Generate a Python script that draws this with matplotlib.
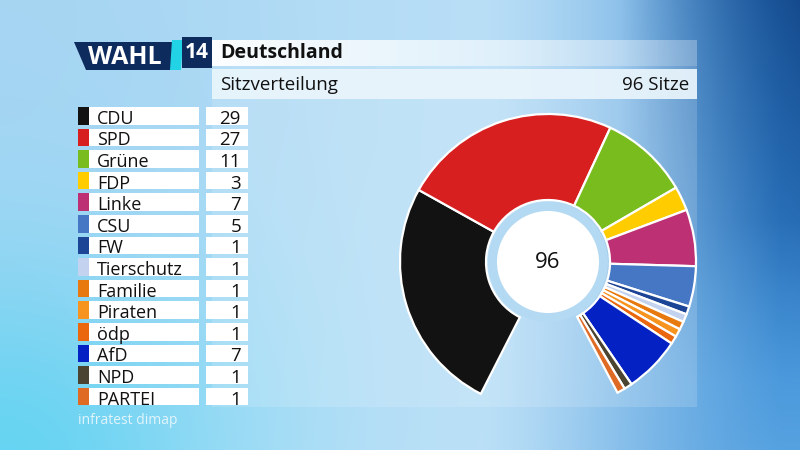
import numpy as np
import matplotlib.pyplot as plt
from matplotlib.patches import Rectangle, Polygon, Circle

# seat distribution (Europawahl 2014, Deutschland)
parties = ['CDU', 'SPD', 'Grüne', 'FDP', 'Linke', 'CSU', 'FW', 'Tierschutz',
           'Familie', 'Piraten', 'ödp', 'AfD', 'NPD', 'PARTEI']
seats = [29, 27, 11, 3, 7, 5, 1, 1, 1, 1, 1, 7, 1, 1]
colors = ['#121212', '#d71f20', '#78bc1e', '#ffcc00', '#bd3074', '#4677c4',
          '#1d4596', '#c3d3ef', '#e8790f', '#f7931f', '#ea670e', '#0421c4',
          '#4b4431', '#df6a24']
title = 'Deutschland'
subtitle = 'Sitzverteilung'
total_text = '96 Sitze'
center_text = '96'
source = 'infratest dimap'

plt.rcParams['font.family'] = ['Open Sans', 'DejaVu Sans']

fig = plt.figure(figsize=(8, 4.5), dpi=100)
ax = fig.add_axes([0, 0, 1, 1])

# background gradient
H, W = 450, 800
yy, xx = np.mgrid[0:H, 0:W].astype(float)
light = np.array([0.74, 0.88, 0.97])
blue = np.array([0.20, 0.52, 0.82])
dark = np.array([0.08, 0.29, 0.55])
cyan = np.array([0.33, 0.83, 0.95])
topleft = np.array([0.60, 0.81, 0.94])
t = (np.clip((xx - 480) / 300, 0, 1) ** 1.4)[..., None]
img = light * (1 - t) + blue * t
d = (np.clip((xx - 620) / 180, 0, 1) * np.clip(1 - yy / 380, 0, 1))[..., None]
img = img * (1 - d) + dark * d
br = (t[..., 0] * np.clip((yy - 220) / 230, 0, 1) * 0.55)[..., None]
img = img * (1 - br) + np.array([0.45, 0.73, 0.93]) * br
c = (np.exp(-(xx ** 2 + (H - yy) ** 2) / (2 * 170 ** 2)) * 0.9)[..., None]
img = img * (1 - c) + cyan * c
tl = (np.exp(-(xx ** 2 + yy ** 2) / (2 * 260 ** 2)) * 0.6)[..., None]
img = img * (1 - tl) + topleft * tl
ax.imshow(img, extent=(0, 800, 450, 0), aspect='auto', zorder=0)

# light panel
ax.add_patch(Rectangle((212, 40), 485, 367, color='white', alpha=0.15, lw=0, zorder=1))

# logo
ax.add_patch(Polygon([(74, 42), (176, 42), (176, 70), (86, 70)], closed=True,
                     color='#0e2b5e', lw=0, zorder=2))
ax.add_patch(Polygon([(172, 40), (183, 40), (181, 70), (170, 70)], closed=True,
                     color='#22d3e6', lw=0, zorder=2))
ax.add_patch(Rectangle((182, 37), 30, 31, color='#0e2b5e', lw=0, zorder=3))
ax.text(125, 57, 'WAHL', color='white', fontsize=18, fontweight='bold',
        ha='center', va='center', zorder=4)
ax.text(197, 52, '14', color='white', fontsize=15, fontweight='bold',
        ha='center', va='center', zorder=4)

# header bars
grad = np.ones((1, 256, 4))
grad[..., 3] = np.linspace(0.97, 0.15, 256)
ax.imshow(grad, extent=(212, 697, 66, 40), aspect='auto', zorder=2)
ax.add_patch(Rectangle((212, 69), 485, 30, color='#eaf5fc', alpha=0.92, lw=0, zorder=2))
ax.text(220, 58, title, fontsize=14, fontweight='bold', color='#111111',
        ha='left', va='baseline', zorder=4)
ax.text(220, 90, subtitle, fontsize=13.5, color='#111111',
        ha='left', va='baseline', zorder=4)
ax.text(689, 90, total_text, fontsize=13.5, color='#111111',
        ha='right', va='baseline', zorder=4)

# legend table
row_top, pitch, bar_h = 107, 21.6, 17.5
for i, (p, s, col) in enumerate(zip(parties, seats, colors)):
    y0 = row_top + i * pitch
    ax.add_patch(Rectangle((78, y0), 11, bar_h, color=col, lw=0, zorder=3))
    ax.add_patch(Rectangle((89, y0), 110, bar_h, color='white', lw=0, zorder=2))
    ax.add_patch(Rectangle((206, y0), 42, bar_h, color='white', lw=0, zorder=2))
    ax.text(97, y0 + 16.8, p, fontsize=13, color='#111111', ha='left', va='baseline', zorder=4)
    ax.text(241, y0 + 16.8, str(s), fontsize=13.5, color='#111111', ha='right', va='baseline', zorder=4)

ax.text(78, 420, source, fontsize=10, color='#e2f4fc', ha='left', va='center', zorder=4)

# seat ring (305 degrees used, gap at the bottom)
arc = 305
fracs = np.array(seats) / sum(seats) * arc / 360
cx, cy, r = 548, 262, 148
# y axis is inverted, so the angle is mirrored and counterclock gives clockwise on screen
ax.pie(fracs, colors=colors, normalize=False, startangle=-243, counterclock=True,
       center=(cx, cy), radius=r,
       wedgeprops=dict(width=86, edgecolor='white', linewidth=1.6, zorder=3))
ax.add_patch(Circle((cx, cy), 60, color='#b3d9f3', lw=0, zorder=3))
ax.add_patch(Circle((cx, cy), 51, color='white', lw=0, zorder=4))
ax.text(cx, cy, center_text, fontsize=16, color='#111111', ha='center', va='center', zorder=5)

ax.set_xlim(0, 800)
ax.set_ylim(450, 0)
ax.set_aspect('auto')
ax.axis('off')

fig.savefig('out.png', dpi=100)
